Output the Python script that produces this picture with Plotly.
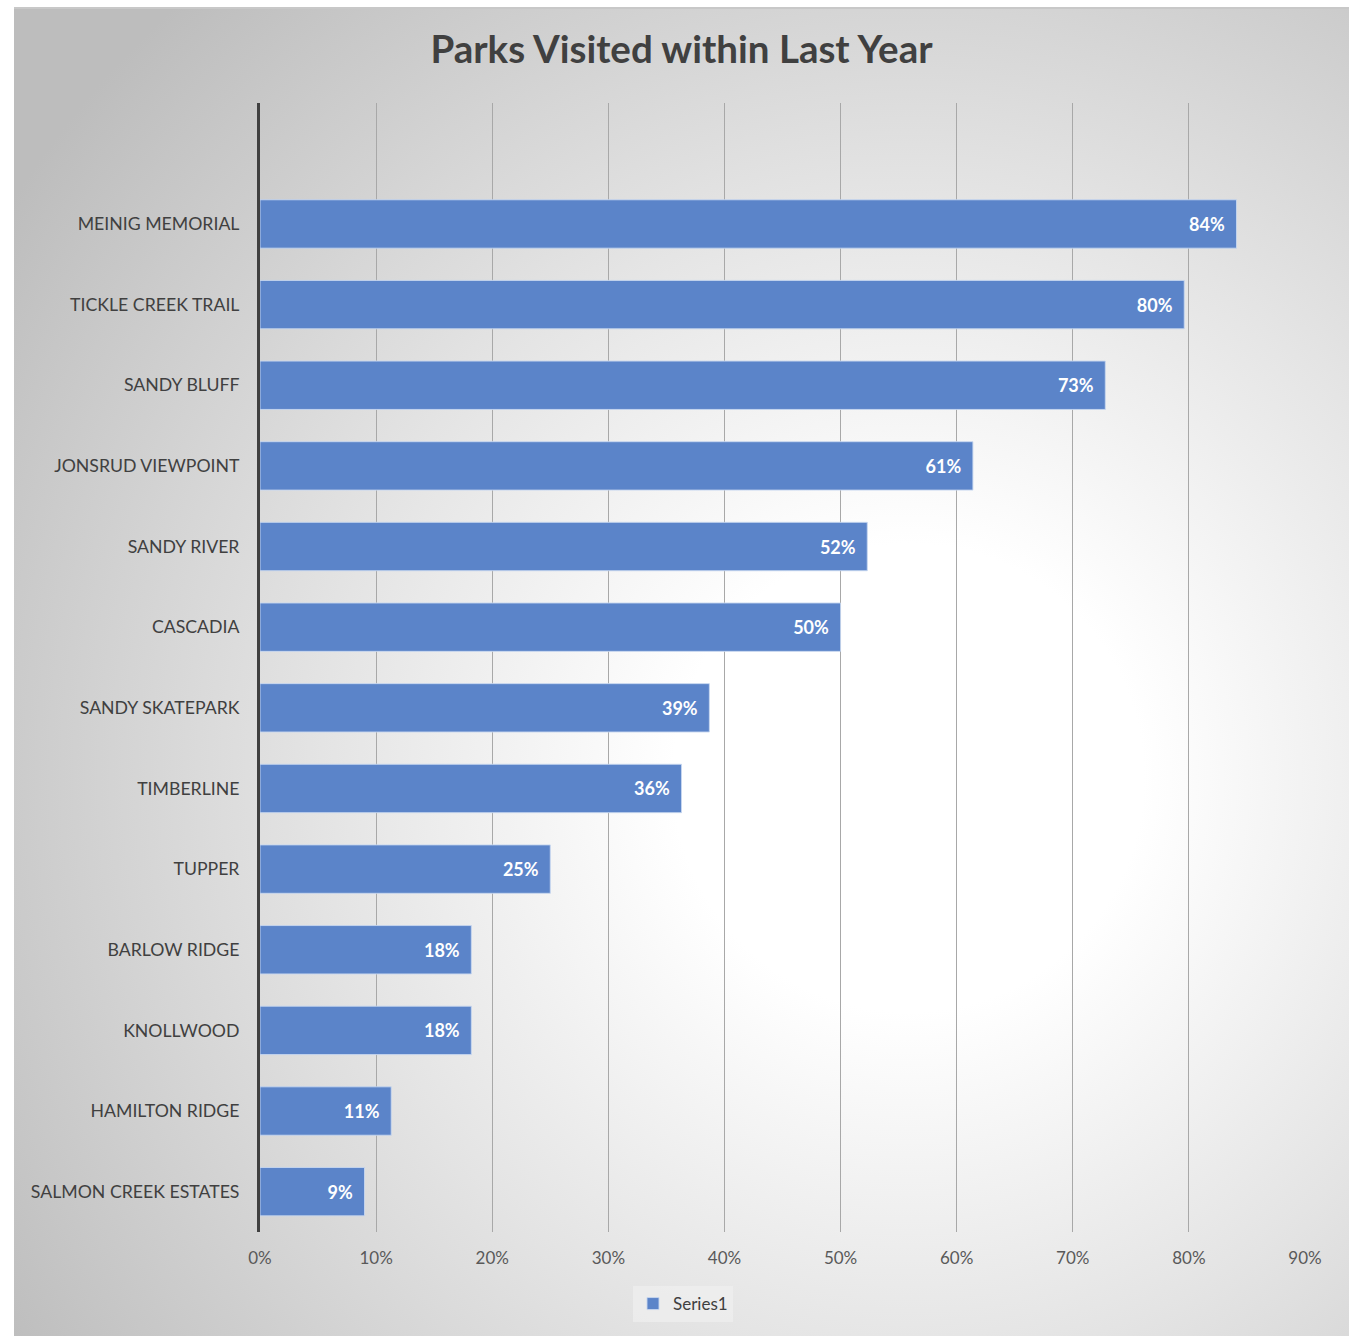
import base64
import plotly.graph_objects as go

# ---- data (bottom to top) ----
parks = [
    "SALMON CREEK ESTATES", "HAMILTON RIDGE", "KNOLLWOOD", "BARLOW RIDGE",
    "TUPPER", "TIMBERLINE", "SANDY SKATEPARK", "CASCADIA", "SANDY RIVER",
    "JONSRUD VIEWPOINT", "SANDY BLUFF", "TICKLE CREEK TRAIL", "MEINIG MEMORIAL",
]
share_visited = [0.090, 0.113, 0.182, 0.182, 0.250, 0.363, 0.387, 0.500,
                 0.523, 0.614, 0.728, 0.796, 0.841]
x_ticks = [0, 0.1, 0.2, 0.3, 0.4, 0.5, 0.6, 0.7, 0.8, 0.9]
series_name = "Series1"
title_text = "Parks Visited within Last Year"

W, H = 1349, 1336
ML, MR, MT, MB = 260, 44, 103, 104
PW, PH = W - ML - MR, H - MT - MB

FONT = "Lato, 'Open Sans', sans-serif"

svg = f"""<svg xmlns='http://www.w3.org/2000/svg' width='1335' height='1329' viewBox='0 0 1335 1329' preserveAspectRatio='none'>
<defs><radialGradient id='g' cx='0.67' cy='0.58' r='0.8' fx='0.67' fy='0.58'>
<stop offset='0' stop-color='#ffffff'/>
<stop offset='0.22' stop-color='#ffffff'/>
<stop offset='0.55' stop-color='#e4e4e4'/>
<stop offset='1' stop-color='#bdbdbd'/>
</radialGradient></defs>
<rect x='0' y='0' width='1335' height='1329' fill='url(#g)'/>
<rect x='0' y='0' width='1335' height='2' fill='#c8c8c8'/>
</svg>"""
src = "data:image/svg+xml;base64," + base64.b64encode(svg.encode()).decode()

fig = go.Figure()
fig.add_trace(go.Bar(
    x=share_visited, y=parks, orientation="h", name=series_name,
    marker=dict(color="#5b84c9", line=dict(color="rgba(200,215,240,0.9)", width=1)),
    width=0.6,
    texttemplate="%{x:.0%}\u00a0\u00a0",
    textposition="inside", insidetextanchor="end",
    textfont=dict(family=FONT, size=18, color="white", weight="bold"),
    showlegend=True,
))

fig.update_layout(
    width=W, height=H,
    margin=dict(l=ML, r=MR, t=MT, b=MB, autoexpand=False),
    paper_bgcolor="white", plot_bgcolor="rgba(0,0,0,0)",
    font=dict(family=FONT, color="#404040"),
    title=dict(text=title_text, xref="container", x=681.5 / W, xanchor="center",
               yref="container", y=1 - 50 / H, yanchor="middle",
               font=dict(family=FONT, size=38.5, color="#404040", weight="bold")),
    xaxis=dict(range=[0, 0.9], tickvals=x_ticks, tickformat=".0%",
               showgrid=True, gridcolor="#a8a8a8", gridwidth=1,
               zeroline=False, showline=False, ticks="",
               ticklabelstandoff=14,
               tickfont=dict(family=FONT, size=17, color="#595959")),
    yaxis=dict(type="category", categoryorder="array", categoryarray=parks,
               range=[-0.5, 13.5], showgrid=False, zeroline=False,
               showline=True, linecolor="#404040", linewidth=3, ticks="",
               ticklabelstandoff=14,
               tickfont=dict(family=FONT, size=17.7, color="#404040")),
    legend=dict(orientation="h", x=(683 - ML) / PW, xanchor="center",
                y=(1232 - 1304) / PH, yanchor="middle",
                bgcolor="rgba(240,240,240,0.7)",
                font=dict(family=FONT, size=17, color="#404040")),
    bargap=0.4,
    images=[dict(source=src, xref="paper", yref="paper",
                 x=(14 - ML) / PW, y=(1232 - 7) / PH,
                 sizex=(W - 14) / PW, sizey=(H - 7) / PH,
                 xanchor="left", yanchor="top", sizing="stretch",
                 layer="below")],
)

fig.write_html("out.html")
